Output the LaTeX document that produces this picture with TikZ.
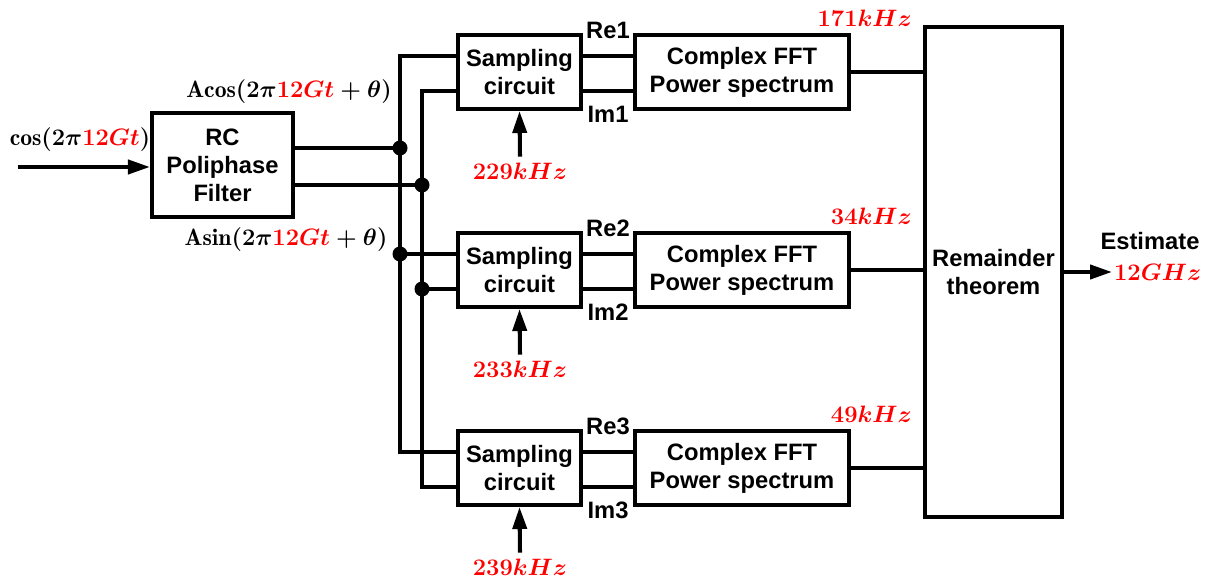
\documentclass[tikz,border=0pt]{standalone}
\usepackage{fix-cm}
\usepackage{fontspec}
\setsansfont{Liberation Sans}
\usepackage{xcolor}
\usetikzlibrary{arrows.meta,positioning,calc}
\tikzset{
  blkarr/.style={-{Triangle[length=4.4mm,width=2.8mm]}, line width=2.3pt},
  blkline/.style={line width=2.3pt},
  blknode/.style={draw, line width=2.3pt, align=center, inner sep=3pt},
  junc/.style={circle, fill, inner sep=0pt, minimum size=3mm},
}

\begin{document}
\begin{tikzpicture}[
  font=\fontsize{13.5}{16}\selectfont\sffamily\bfseries,
  smp/.style={blknode, minimum width=2.46cm, minimum height=1.48cm},
  fft/.style={blknode, minimum width=4.28cm, minimum height=1.48cm},
  mth/.style={font=\fontsize{13.5}{16}\selectfont\boldmath},
  frq/.style={mth, text=red},
]
  \useasboundingbox (0,0) rectangle (24.22,11.66);
  % filter and remainder blocks
  \node[blknode, minimum width=2.82cm, minimum height=2.08cm] (rc) at (4.45,8.36) {RC\\Poliphase\\Filter};
  \node[blknode, minimum width=2.74cm, minimum height=9.8cm] (rem) at (19.87,6.22) {Remainder\\theorem};
  % three sampling branches
  \foreach \i/\y/\f/\g in {1/10.22/229/171, 2/6.26/233/34, 3/2.3/239/49} {
    \node[smp] (smp\i) at (10.39,\y) {Sampling\\circuit};
    \node[fft] (fft\i) at (14.84,\y) {Complex FFT\\Power spectrum};
    \coordinate (ua\i) at ([yshift=0.32cm]smp\i.west);
    \coordinate (ub\i) at ([yshift=-0.38cm]smp\i.west);
    \draw[blkline] ([yshift=0.32cm]smp\i.east) -- node[above=0.18cm] (re\i) {Re\i} ([yshift=0.32cm]fft\i.west);
    \draw[blkline] ([yshift=-0.38cm]smp\i.east) -- node[below=0.15cm] (im\i) {Im\i} ([yshift=-0.38cm]fft\i.west);
    \node[frq] (clk\i) at (10.4,\y-1.98) {$\f kHz$};
    \draw[blkarr] (clk\i.north) -- (smp\i.south);
    \draw[blkline] (fft\i.east) -- (fft\i.east -| rem.west);
    \node[frq, anchor=east] (out\i) at (18.36,\y+1.08) {$\g kHz$};
  }
  % input
  \coordinate (in) at (0.36,8.32);
  \draw[blkarr] (in) -- (in -| rc.west);
  \node[mth] (lcos) at (1.6,8.86) {$\cos(2\pi\textcolor{red}{12Gt})$};
  \node[mth] (lacos) at (5.78,9.82) {$\mathrm{Acos}(2\pi\textcolor{red}{12Gt}+\theta)$};
  \node[mth] (lasin) at (5.72,6.86) {$\mathrm{Asin}(2\pi\textcolor{red}{12Gt}+\theta)$};
  % I/Q buses
  \coordinate (xa) at (8.0,0);
  \coordinate (xb) at (8.44,0);
  \coordinate (fa) at ([yshift=0.34cm]rc.east);
  \coordinate (fb) at ([yshift=-0.40cm]rc.east);
  \draw[blkline] (ua1) -| (xa |- ua3) -- (ua3);
  \draw[blkline] (ub1) -| (xb |- ub3) -- (ub3);
  \draw[blkline] (fa) -- (xa |- fa) node[junc] (ja1) {};
  \draw[blkline] (fb) -- (xb |- fb) node[junc] (jb1) {};
  \draw[blkline] (xa |- ua2) node[junc] (ja2) {} -- (ua2);
  \draw[blkline] (xb |- ub2) node[junc] (jb2) {} -- (ub2);
  % output
  \draw[blkarr] (rem.east) -- ++(0.96,0) coordinate (est);
  \node[frq, anchor=west, inner sep=1pt] (ghz) at (est) {$12GHz$};
  \node (estlbl) at (23.0,6.84) {Estimate};
\end{tikzpicture}
\end{document}
